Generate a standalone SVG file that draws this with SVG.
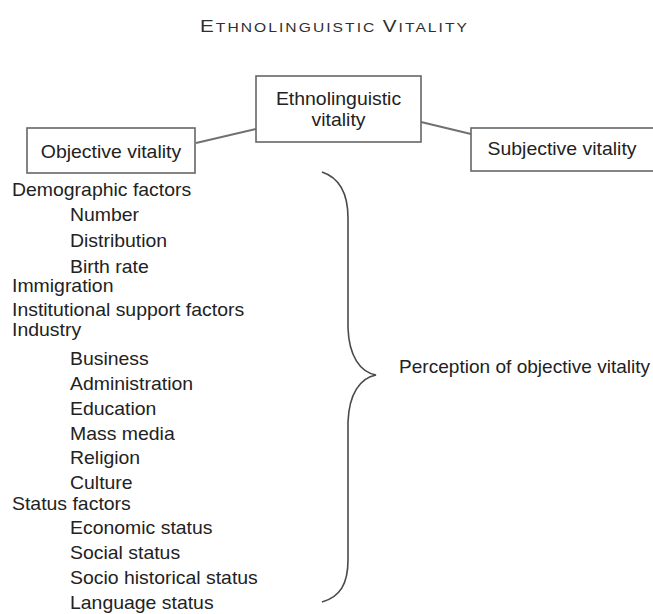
<svg xmlns="http://www.w3.org/2000/svg" width="653" height="614" viewBox="0 0 653 614">
<style>
.t{font-family:"Liberation Sans",Arial,Helvetica,sans-serif;font-size:18px;fill:#222222}
.box{fill:#ffffff;stroke:#666666;stroke-width:1.6}
.ln{stroke:#707070;stroke-width:2;fill:none}
.brace{stroke:#4a4a4a;stroke-width:1.6;fill:none}
.ttl{font-family:"Liberation Sans",Arial,sans-serif;fill:#2e2e2e}
</style>
<rect x="0" y="0" width="653" height="614" fill="#ffffff"/>
<text class="ttl" x="0" y="0" transform="translate(200,32) scale(1.25,1)" textLength="213.6" lengthAdjust="spacing"><tspan font-size="16.5">E</tspan><tspan font-size="12.5">THNOLINGUISTIC </tspan><tspan font-size="16.5">V</tspan><tspan font-size="12.5">ITALITY</tspan></text>
<g id="connectors">
<line class="ln" x1="196" y1="143" x2="256" y2="129"/>
<line class="ln" x1="421" y1="122" x2="471" y2="134"/>
</g>
<g id="ethno">
<rect class="box" x="256" y="76" width="165" height="66"/>
<text class="t" text-anchor="middle" transform="translate(338.5,105) scale(1.08,1)">Ethnolinguistic</text>
<text class="t" text-anchor="middle" transform="translate(338.5,126) scale(1.08,1)">vitality</text>
</g>
<g id="objective">
<rect class="box" x="27" y="128" width="168" height="45"/>
<text class="t" text-anchor="middle" transform="translate(111,158) scale(1.08,1)">Objective vitality</text>
</g>
<g id="subjective">
<rect class="box" x="471" y="128" width="190" height="43"/>
<text class="t" text-anchor="middle" transform="translate(562,155) scale(1.08,1)">Subjective vitality</text>
</g>
<g id="factors" transform="translate(12,0) scale(1.08,1)">
<text class="t" x="0" y="196">Demographic factors</text>
<text class="t" x="53.7" y="221.5">Number</text>
<text class="t" x="53.7" y="247">Distribution</text>
<text class="t" x="53.7" y="273">Birth rate</text>
<text class="t" x="0" y="292.5">Immigration</text>
<text class="t" x="0" y="316">Institutional support factors</text>
<text class="t" x="0" y="336.5">Industry</text>
<text class="t" x="53.7" y="365">Business</text>
<text class="t" x="53.7" y="390.5">Administration</text>
<text class="t" x="53.7" y="415">Education</text>
<text class="t" x="53.7" y="440">Mass media</text>
<text class="t" x="53.7" y="464.5">Religion</text>
<text class="t" x="53.7" y="489.5">Culture</text>
<text class="t" x="0" y="510">Status factors</text>
<text class="t" x="53.7" y="534">Economic status</text>
<text class="t" x="53.7" y="559">Social status</text>
<text class="t" x="53.7" y="584">Socio historical status</text>
<text class="t" x="53.7" y="609">Language status</text>
</g>
<g id="perception">
<path class="brace" d="M322,172 C340,178 348,195 348,218 L348,328 C349,356 360,372 376,375 C360,378 349,394 348,422 L348,560 C348,584 340,597 322,602"/>
<text class="t" transform="translate(399,373) scale(1.06,1)">Perception of objective vitality</text>
</g>
</svg>
